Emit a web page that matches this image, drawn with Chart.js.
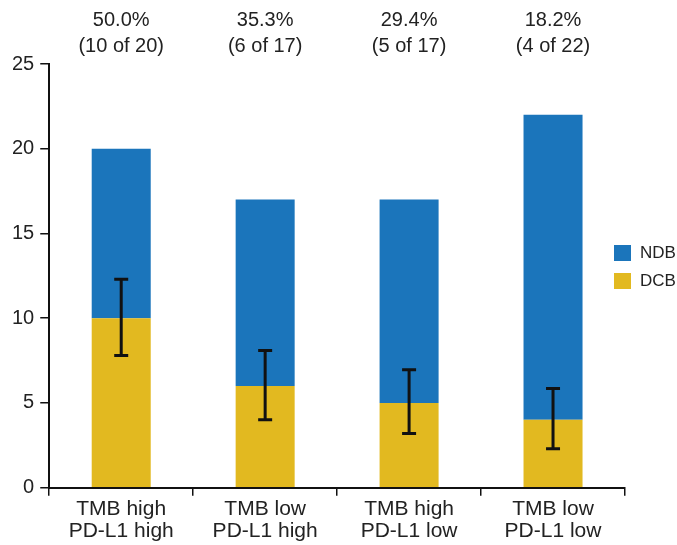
<!DOCTYPE html>
<html>
<head>
<meta charset="utf-8">
<script src="https://cdn.jsdelivr.net/npm/chart.js@4.4.1/dist/chart.umd.min.js"></script>
<style>
  html,body{margin:0;padding:0;background:#fff;}
  #wrap{width:677px;height:545px;position:relative;}
</style>
</head>
<body>
<div id="wrap"><canvas id="chart"></canvas></div>
<script>
const categories=[['TMB high','PD-L1 high'],['TMB low','PD-L1 high'],['TMB high','PD-L1 low'],['TMB low','PD-L1 low']];
const dcb=[10,6,5,4];
const ndb=[10,11,12,18];
const errLow=[7.8,4.0,3.2,2.3];
const errHigh=[12.3,8.1,6.95,5.85];
const pctLabels=['50.0%','35.3%','29.4%','18.2%'];
const countLabels=['(10 of 20)','(6 of 17)','(5 of 17)','(4 of 22)'];
const yTicks=[0,5,10,15,20,25];

const FONT='"Liberation Sans", Arial, sans-serif';
const TXT='#222';
const BLUE='#1b75bb', GOLD='#e2b920';

// error bars on the DCB segment
const errorBars={id:'errorBars',afterDatasetsDraw(chart){
  const ctx=chart.ctx, y=chart.scales.y, meta=chart.getDatasetMeta(0);
  ctx.save(); ctx.strokeStyle='#111'; ctx.lineWidth=3;
  meta.data.forEach((bar,i)=>{
    const x=bar.x, t=y.getPixelForValue(errHigh[i]), b=y.getPixelForValue(errLow[i]);
    ctx.beginPath();
    ctx.moveTo(x,t); ctx.lineTo(x,b);
    ctx.moveTo(x-7,t); ctx.lineTo(x+7,t);
    ctx.moveTo(x-7,b); ctx.lineTo(x+7,b);
    ctx.stroke();
  });
  ctx.restore();
}};

// percentage labels above each column + legend
const extras={id:'extras',afterDraw(chart){
  const ctx=chart.ctx, xs=chart.scales.x, ca=chart.chartArea;
  ctx.save();
  ctx.fillStyle=TXT; ctx.font='20px '+FONT; ctx.textAlign='center'; ctx.textBaseline='middle';
  pctLabels.forEach((p,i)=>{
    const x=xs.getPixelForValue(i);
    ctx.fillText(p,x,20);
    ctx.fillText(countLabels[i],x,46);
  });
  // legend (NDB on top, DCB below)
  const items=[{label:'NDB',color:BLUE},{label:'DCB',color:GOLD}];
  const bx=ca.right-11;
  items.forEach((it,k)=>{
    const yy=245+k*28;
    ctx.fillStyle=it.color; ctx.fillRect(bx,yy,17,16);
    ctx.fillStyle=TXT; ctx.font='17px '+FONT; ctx.textAlign='left';
    ctx.fillText(it.label,bx+26,yy+8.5);
  });
  ctx.restore();
}};

new Chart(document.getElementById('chart'),{
  type:'bar',
  data:{labels:categories,datasets:[
    {label:'DCB',data:dcb,backgroundColor:GOLD,stack:'s'},
    {label:'NDB',data:ndb,backgroundColor:BLUE,stack:'s'}
  ]},
  options:{
    responsive:true,maintainAspectRatio:false,animation:false,
    categoryPercentage:1,barPercentage:0.41,
    layout:{padding:{top:64,left:6,right:52,bottom:0}},
    plugins:{legend:{display:false},tooltip:{enabled:false}},
    scales:{
      x:{stacked:true,
        grid:{display:true,drawOnChartArea:false,drawTicks:true,tickLength:8,color:'#111',lineWidth:1.5,offset:true},
        border:{display:true,color:'#111',width:2},
        ticks:{color:TXT,font:{family:FONT,size:21,lineHeight:1.08},padding:2,maxRotation:0}},
      y:{stacked:true,min:0,max:25,
        afterBuildTicks(ax){ax.ticks=yTicks.map(v=>({value:v}));},
        grid:{display:true,drawOnChartArea:false,drawTicks:true,tickLength:9,color:'#111',lineWidth:1.5},
        border:{display:true,color:'#111',width:2},
        ticks:{color:TXT,font:{family:FONT,size:20},padding:6}}
    }
  },
  plugins:[errorBars,extras]
});
</script>
</body>
</html>
